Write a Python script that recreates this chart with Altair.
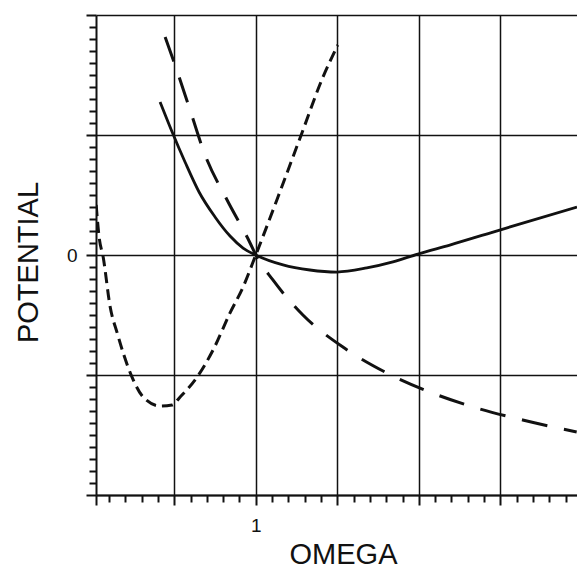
import altair as alt
import pandas as pd

# Solid curve
solid_x = [0.413, 0.487, 0.566, 0.652, 0.750, 0.842, 0.922, 1.0, 1.167, 1.332, 1.497, 1.681, 1.841, 1.994, 2.19, 2.496, 2.97]
solid_y = [1.275, 1.025, 0.775, 0.525, 0.317, 0.158, 0.058, 0.0, -0.083, -0.125, -0.142, -0.108, -0.058, 0.008, 0.083, 0.208, 0.4]

# Long-dashed curve
long_x = [0.444, 0.505, 0.597, 0.689, 0.824, 0.965, 1.0, 1.105, 1.289, 1.534, 1.792, 2.067, 2.355, 2.637, 2.968]
long_y = [1.817, 1.583, 1.208, 0.833, 0.458, 0.1, 0.0, -0.208, -0.5, -0.767, -0.975, -1.142, -1.275, -1.375, -1.475]

# Short-dashed curve
short_x = [0.021, 0.039, 0.064, 0.107, 0.15, 0.187, 0.241, 0.309, 0.413, 0.487, 0.536, 0.64, 0.738, 0.842, 0.922, 1.0, 1.136, 1.283, 1.412, 1.503]
short_y = [0.417, 0.15, -0.017, -0.433, -0.65, -0.817, -1.017, -1.183, -1.258, -1.25, -1.183, -1.017, -0.792, -0.483, -0.267, 0.0, 0.483, 1.017, 1.483, 1.75]

x_ticks = [0.02] + [round(i * 0.1, 1) for i in range(1, 30)]
y_ticks = [round(i * 0.1, 1) for i in range(-20, 21)]

FONT = "Liberation Sans"
INK = "#111111"

x_major = "abs(datum.value*2 - round(datum.value*2)) < 0.001 || datum.value < 0.05"
y_major = "abs(datum.value - round(datum.value)) < 0.001"

x_scale = alt.Scale(domain=[0.02, 2.97], nice=False, zero=False)
y_scale = alt.Scale(domain=[-2, 2], nice=False, zero=False)

x_axis = alt.Axis(
    values=x_ticks,
    title="OMEGA",
    labelExpr="abs(datum.value - 1) < 0.001 ? '1' : ''",
    labelFont=FONT, labelFontSize=19, labelColor=INK, labelPadding=11,
    titleFont=FONT, titleFontSize=29, titleFontWeight="normal", titleColor=INK,
    titleX=247, titleY=68, titleBaseline="alphabetic", titleAlign="center",
    domainColor=INK, domainWidth=2,
    tickColor=INK,
    tickSize={"condition": {"test": x_major, "value": 10}, "value": 7},
    tickWidth=2,
    grid=True, gridColor=INK, gridWidth=1.5,
    gridOpacity={"condition": {"test": "abs(datum.value*2 - round(datum.value*2)) < 0.001", "value": 1}, "value": 0},
    labelOverlap=False,
)

y_axis = alt.Axis(
    values=y_ticks,
    title="POTENTIAL",
    labelExpr="abs(datum.value) < 0.001 ? '0' : ''",
    labelFont=FONT, labelFontSize=19, labelColor=INK, labelPadding=9,
    titleFont=FONT, titleFontSize=29, titleFontWeight="normal", titleColor=INK,
    titleX=-59, titleY=247, titleAngle=270, titleBaseline="alphabetic", titleAlign="center",
    domainColor=INK, domainWidth=2,
    tickColor=INK,
    tickSize={"condition": {"test": y_major, "value": 10}, "value": 7},
    tickWidth=2,
    grid=True, gridColor=INK, gridWidth=1.5,
    gridOpacity={"condition": {"test": y_major, "value": 1}, "value": 0},
    labelOverlap=False,
)

solid_df = pd.DataFrame({"omega": solid_x, "potential": solid_y})
long_df = pd.DataFrame({"omega": long_x, "potential": long_y})
short_df = pd.DataFrame({"omega": short_x, "potential": short_y})

def curve(df, dash, width):
    kw = dict(color=INK, strokeWidth=width, interpolate="monotone", clip=True)
    if dash:
        kw["strokeDash"] = dash
    return alt.Chart(df).mark_line(**kw).encode(
        x=alt.X("omega:Q", scale=x_scale, axis=x_axis),
        y=alt.Y("potential:Q", scale=y_scale, axis=y_axis),
    )

chart = alt.layer(
    curve(solid_df, None, 2.8),
    curve(long_df, [26, 17], 3),
    curve(short_df, [11, 6], 3),
).properties(
    width=481,
    height=480,
    autosize=alt.AutoSizeParams(type="none"),
    padding={"left": 96, "top": 15, "right": 0, "bottom": 76},
    background="white",
).configure_view(strokeWidth=0)

chart.save("out.html", embed_options={"renderer": "svg", "actions": False})
